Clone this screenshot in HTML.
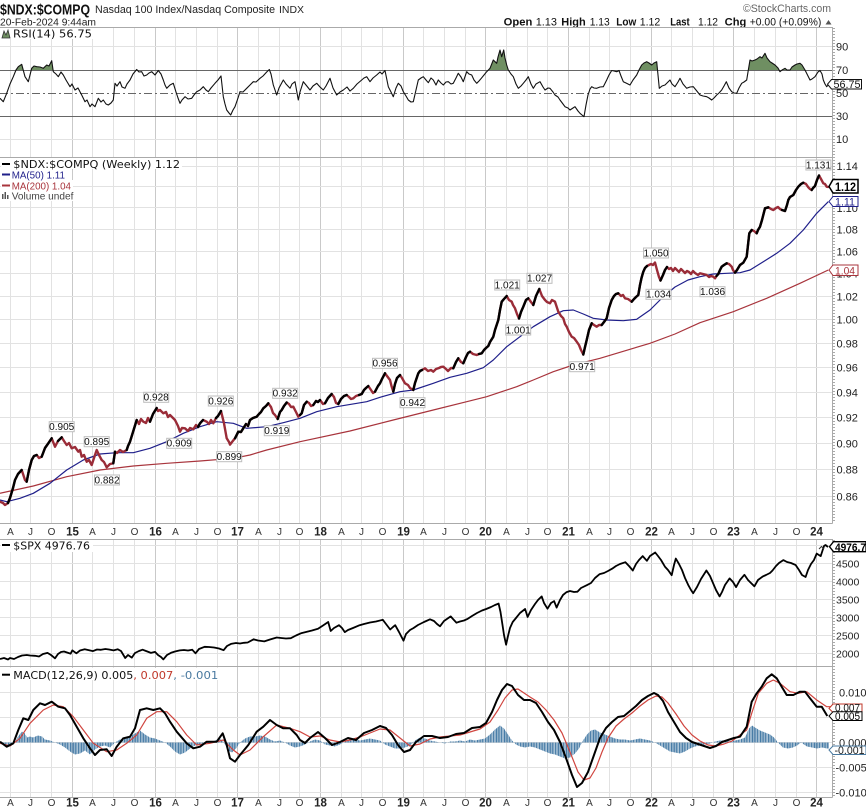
<!DOCTYPE html>
<html><head><meta charset="utf-8"><style>html,body{margin:0;padding:0;background:#fff;}svg{display:block}</style></head>
<body>
<svg width="866" height="811" viewBox="0 0 866 811" xmlns="http://www.w3.org/2000/svg" font-family="'Liberation Sans', Arial, sans-serif">
<defs>
<clipPath id="cRsi"><rect x="0" y="27" width="832.5" height="130"/></clipPath>
<clipPath id="cRsiHi"><rect x="0" y="27" width="832.5" height="43"/></clipPath>
<clipPath id="cMain"><rect x="0" y="157" width="832.5" height="366"/></clipPath>
<clipPath id="cSpx"><rect x="0" y="539" width="832.5" height="127"/></clipPath>
<clipPath id="cMacd"><rect x="0" y="666" width="832.5" height="131"/></clipPath>
<pattern id="hb" x="0" y="0" width="1.59" height="20" patternUnits="userSpaceOnUse"><rect x="0" y="0" width="1.1" height="20" fill="#3f76a2"/></pattern>
</defs>
<rect width="866" height="811" fill="#fff"/>

<!-- header -->
<text x="0" y="14.5" font-size="15" font-weight="bold" fill="#111" textLength="90" lengthAdjust="spacingAndGlyphs">$NDX:$COMPQ</text>
<text x="95" y="13" font-size="11" fill="#222" textLength="180" lengthAdjust="spacingAndGlyphs">Nasdaq 100 Index/Nasdaq Composite</text>
<text x="279" y="13" font-size="10" fill="#222" textLength="25" lengthAdjust="spacingAndGlyphs">INDX</text>
<text x="0" y="25.5" font-size="10.5" fill="#222" textLength="96" lengthAdjust="spacingAndGlyphs">20-Feb-2024 9:44am</text>
<text x="743" y="12" font-size="11" fill="#666" textLength="88" lengthAdjust="spacingAndGlyphs">©StockCharts.com</text>
<g font-size="11" fill="#111">
<text x="503.7" y="25.5" font-weight="bold" textLength="28.6" lengthAdjust="spacingAndGlyphs">Open</text>
<text x="535.7" y="25.5" textLength="21.3" lengthAdjust="spacingAndGlyphs">1.13</text>
<text x="561.3" y="25.5" font-weight="bold" textLength="24.4" lengthAdjust="spacingAndGlyphs">High</text>
<text x="589.7" y="25.5" textLength="20" lengthAdjust="spacingAndGlyphs">1.13</text>
<text x="616.3" y="25.5" font-weight="bold" textLength="20" lengthAdjust="spacingAndGlyphs">Low</text>
<text x="639.7" y="25.5" textLength="20.6" lengthAdjust="spacingAndGlyphs">1.12</text>
<text x="670.3" y="25.5" font-weight="bold" textLength="19.4" lengthAdjust="spacingAndGlyphs">Last</text>
<text x="698" y="25.5" textLength="20" lengthAdjust="spacingAndGlyphs">1.12</text>
<text x="724.7" y="25.5" font-weight="bold" textLength="21.6" lengthAdjust="spacingAndGlyphs">Chg</text>
<text x="749.7" y="25.5" textLength="71.6" lengthAdjust="spacingAndGlyphs">+0.00 (+0.09%)</text>
</g>
<polygon points="825.5,24.5 831.5,24.5 828.5,20" fill="#555"/>

<!-- vertical grid -->
<path fill="none" stroke="#e2e2e2" stroke-width="1" d="M10.5 27V523M10.5 539V797M30.5 27V523M30.5 539V797M51.5 27V523M51.5 539V797M92.5 27V523M92.5 539V797M113.5 27V523M113.5 539V797M134.5 27V523M134.5 539V797M175.5 27V523M175.5 539V797M196.5 27V523M196.5 539V797M217.5 27V523M217.5 539V797M258.5 27V523M258.5 539V797M279.5 27V523M279.5 539V797M299.5 27V523M299.5 539V797M341.5 27V523M341.5 539V797M361.5 27V523M361.5 539V797M382.5 27V523M382.5 539V797M423.5 27V523M423.5 539V797M444.5 27V523M444.5 539V797M465.5 27V523M465.5 539V797M506.5 27V523M506.5 539V797M527.5 27V523M527.5 539V797M547.5 27V523M547.5 539V797M589.5 27V523M589.5 539V797M609.5 27V523M609.5 539V797M630.5 27V523M630.5 539V797M671.5 27V523M671.5 539V797M692.5 27V523M692.5 539V797M713.5 27V523M713.5 539V797M754.5 27V523M754.5 539V797M775.5 27V523M775.5 539V797M796.5 27V523M796.5 539V797"/>
<path fill="none" stroke="#c9c9c9" stroke-width="1" d="M72.5 27V523M72.5 539V797M155.5 27V523M155.5 539V797M237.5 27V523M237.5 539V797M320.5 27V523M320.5 539V797M403.5 27V523M403.5 539V797M485.5 27V523M485.5 539V797M568.5 27V523M568.5 539V797M651.5 27V523M651.5 539V797M733.5 27V523M733.5 539V797M816.5 27V523M816.5 539V797"/>

<!-- horizontal grid -->
<path fill="none" stroke="#e2e2e2" stroke-width="1" d="M0 46.5H832M0 139.5H832
M0 166.5H832M0 186.5H832M0 207.5H832M0 229.5H832M0 251.5H832M0 273.5H832M0 296.5H832M0 319.5H832M0 343.5H832M0 367.5H832M0 392.5H832M0 417.5H832M0 443.5H832M0 469.5H832M0 496.5H832
M0 545.5H832M0 563.5H832M0 581.5H832M0 599.5H832M0 617.5H832M0 635.5H832M0 653.5H832
M0 692.5H832M0 717.5H832M0 742.5H832M0 767.5H832M0 792.5H832"/>

<!-- panel borders -->
<path fill="none" stroke="#aaa" stroke-width="1" d="M0 27.5H832.5M0 157.5H832.5M0 523.5H832.5M0 539.5H832.5M0 666.5H832.5M0 797.5H832.5M832.5 27V523.5M832.5 539V797.5"/>
<path fill="none" stroke="#aaa" stroke-width="2" stroke-dasharray="1 2" d="M834 28V523M834 540V797"/>

<!-- RSI panel -->
<g clip-path="url(#cRsi)">
<line x1="0" y1="70.5" x2="832" y2="70.5" stroke="#666" stroke-width="1"/>
<line x1="0" y1="116.5" x2="832" y2="116.5" stroke="#666" stroke-width="1"/>
<line x1="0" y1="93.5" x2="832" y2="93.5" stroke="#666" stroke-width="1" stroke-dasharray="8 3 2 3"/>
<g clip-path="url(#cRsiHi)">
<polygon fill="#6f8f62" points="0,98.3 3.3,101.7 6.7,93.3 10,84 13.3,76.7 16,70 18.3,66.7 21.7,64.3 25,76.7 28.3,81.7 31.7,68.3 34,66 36.7,66.7 40,67 43.3,68.3 46.7,65 49,66 51.7,60.7 53.3,71.7 56,74 58.3,76.7 61,72 63.3,75 66,80 70,86.7 72,84 75,90 78,88 81.7,95 85,101.7 87,100 90,106.7 92,104 95,106.7 98.3,98.3 101,102 103.3,100 106,104 108.3,105 111,103 113.3,100 115,83.3 117,86 120,81.7 122,87 125,88.3 127,84 130,80 133,74 136.7,69.5 139,72 141.7,71.7 144,76 146.7,75 149,73 151.7,71.7 155,75 158.3,70.5 161,74 163.3,80 165,85 166.7,88.3 170,85 173.3,83.3 176,92 178,98 180,103.3 182,100 185,96.7 188,99 191.7,98.3 194,95 196.7,91.7 200,90 203.3,86.7 206,90 208.3,91.7 211,88 215,83.3 218,80 221,76 223.3,96.7 225,104 226.7,110 229,113 230.7,115 233,110 235,106.7 238,98 240,91.7 243,92 246.7,88.3 250,85 253.3,81.7 256,82 260,78.3 263,76 266.7,72 269.3,69.5 271,74 273.3,85 276.7,95 279,88 283.3,80 286,84 290,88.3 292,84 295,81.7 298.3,100 300,92 303.3,81.7 306,85 310,90 313,86 316.7,83.3 320,87 323.3,90 326,86 330,78.3 333,88 336.7,95 340,92 343.3,90 347,87 350,91 353.3,88.3 357,84 361.7,80 364,78 366.7,76.7 370,81.7 373,78 376.7,75 380,72 382,74 385,70.5 388.3,86.7 391,92 393.3,96.7 396,88 398.3,83.3 401,86 403.3,91.7 406,96 408.3,100 411,102 413.3,101.7 416,90 418.3,80 421,78 423.3,76.7 426,80 428.3,82.7 431,78 433.3,80 436,85 438.3,80 441,83 443.3,85 446,82 448.3,81.7 451,84 453.3,83.3 456,78 458.3,73.3 461,77 463.3,81.7 466.7,71.7 469,74 471.7,75 474,80 476.7,83.3 479,81 481.3,78.3 484,75 486.7,71.7 490,68.3 493.3,60 496.7,63.3 498,57 500,50 501.7,56.7 503.7,50 505,58 506.7,65 508.3,70 511,74 513.3,76.7 516,84 518.3,88.3 521,86 523.3,83.3 526,80 528.3,76.7 531,84 533.3,88.3 536,84 540,81.7 543,87 545,90 548,88 550,88.3 553,92 555,95 558,97 560,100 563,104 565,106.7 568,108 570,110 573,108 575,106.7 578,111 580,113.3 582,115 584,116.7 586,105 588,95 590,89 591.7,86.7 594,88 596.7,88.3 600,87 603.3,86.7 606.7,80 609,75 611.7,70.5 614,71 616.7,71.7 619,70.5 621,76 623.3,81.7 626,83 630,85 633,80 636.7,75 639,70 641.7,65 644,63 646.7,61.7 649,63 651.7,65 654,63 656.7,61.7 658,75 659.3,88.3 662,86 665,85 668,82 670,80 672,84 675,86.7 678,82 680,78.3 683,84 686.7,88.3 690,87 693.3,86.7 696,90 700,95 703,96 706.7,96.7 709,98 711.7,100 714,98 716.7,95 719,93 721.7,90 724,86 726.3,81.7 729,88 731.7,91.7 734,93 736.7,93.3 739,88 741.7,83.3 744,82 746.7,80 748,72 750,60 752,61 755,60 757,59 760,56.7 762,58 765,53.3 767,58 770,61.7 772,63 775,65 778,68 780,71.7 782,70 785,68.3 787,70 790,70 792,67 795,65 797,64 800,63.3 802,65 805,70 807,74 810,80 812,79 815,76.7 818,72 820,70.5 822,74 823.3,80 825,84 826.7,86.7 828,85.2 828,70 0,70"/>
</g>
<polyline fill="none" stroke="#111" stroke-width="1.1" stroke-linejoin="round" points="0,98.3 3.3,101.7 6.7,93.3 10,84 13.3,76.7 16,70 18.3,66.7 21.7,64.3 25,76.7 28.3,81.7 31.7,68.3 34,66 36.7,66.7 40,67 43.3,68.3 46.7,65 49,66 51.7,60.7 53.3,71.7 56,74 58.3,76.7 61,72 63.3,75 66,80 70,86.7 72,84 75,90 78,88 81.7,95 85,101.7 87,100 90,106.7 92,104 95,106.7 98.3,98.3 101,102 103.3,100 106,104 108.3,105 111,103 113.3,100 115,83.3 117,86 120,81.7 122,87 125,88.3 127,84 130,80 133,74 136.7,69.5 139,72 141.7,71.7 144,76 146.7,75 149,73 151.7,71.7 155,75 158.3,70.5 161,74 163.3,80 165,85 166.7,88.3 170,85 173.3,83.3 176,92 178,98 180,103.3 182,100 185,96.7 188,99 191.7,98.3 194,95 196.7,91.7 200,90 203.3,86.7 206,90 208.3,91.7 211,88 215,83.3 218,80 221,76 223.3,96.7 225,104 226.7,110 229,113 230.7,115 233,110 235,106.7 238,98 240,91.7 243,92 246.7,88.3 250,85 253.3,81.7 256,82 260,78.3 263,76 266.7,72 269.3,69.5 271,74 273.3,85 276.7,95 279,88 283.3,80 286,84 290,88.3 292,84 295,81.7 298.3,100 300,92 303.3,81.7 306,85 310,90 313,86 316.7,83.3 320,87 323.3,90 326,86 330,78.3 333,88 336.7,95 340,92 343.3,90 347,87 350,91 353.3,88.3 357,84 361.7,80 364,78 366.7,76.7 370,81.7 373,78 376.7,75 380,72 382,74 385,70.5 388.3,86.7 391,92 393.3,96.7 396,88 398.3,83.3 401,86 403.3,91.7 406,96 408.3,100 411,102 413.3,101.7 416,90 418.3,80 421,78 423.3,76.7 426,80 428.3,82.7 431,78 433.3,80 436,85 438.3,80 441,83 443.3,85 446,82 448.3,81.7 451,84 453.3,83.3 456,78 458.3,73.3 461,77 463.3,81.7 466.7,71.7 469,74 471.7,75 474,80 476.7,83.3 479,81 481.3,78.3 484,75 486.7,71.7 490,68.3 493.3,60 496.7,63.3 498,57 500,50 501.7,56.7 503.7,50 505,58 506.7,65 508.3,70 511,74 513.3,76.7 516,84 518.3,88.3 521,86 523.3,83.3 526,80 528.3,76.7 531,84 533.3,88.3 536,84 540,81.7 543,87 545,90 548,88 550,88.3 553,92 555,95 558,97 560,100 563,104 565,106.7 568,108 570,110 573,108 575,106.7 578,111 580,113.3 582,115 584,116.7 586,105 588,95 590,89 591.7,86.7 594,88 596.7,88.3 600,87 603.3,86.7 606.7,80 609,75 611.7,70.5 614,71 616.7,71.7 619,70.5 621,76 623.3,81.7 626,83 630,85 633,80 636.7,75 639,70 641.7,65 644,63 646.7,61.7 649,63 651.7,65 654,63 656.7,61.7 658,75 659.3,88.3 662,86 665,85 668,82 670,80 672,84 675,86.7 678,82 680,78.3 683,84 686.7,88.3 690,87 693.3,86.7 696,90 700,95 703,96 706.7,96.7 709,98 711.7,100 714,98 716.7,95 719,93 721.7,90 724,86 726.3,81.7 729,88 731.7,91.7 734,93 736.7,93.3 739,88 741.7,83.3 744,82 746.7,80 748,72 750,60 752,61 755,60 757,59 760,56.7 762,58 765,53.3 767,58 770,61.7 772,63 775,65 778,68 780,71.7 782,70 785,68.3 787,70 790,70 792,67 795,65 797,64 800,63.3 802,65 805,70 807,74 810,80 812,79 815,76.7 818,72 820,70.5 822,74 823.3,80 825,84 826.7,86.7 828,85.2"/>
</g>
<!-- RSI legend -->
<rect x="1" y="28" width="94" height="11" fill="#fff"/>
<polygon points="2,38 4,31 6,35 8,30 10,38" fill="#6f8f62" stroke="#333" stroke-width="0.8"/>
<text x="13" y="37.5" font-family="'DejaVu Sans', sans-serif" font-size="10.5" fill="#111" textLength="79" lengthAdjust="spacingAndGlyphs">RSI(14) 56.75</text>
<!-- RSI axis labels -->
<g font-size="11" fill="#222">
<text x="836" y="50.5">90</text>
<text x="836" y="74">70</text>
<text x="836" y="97">50</text>
<text x="836" y="120">30</text>
<text x="836" y="143">10</text>
</g>
<polygon points="827.5,84.2 831.5,79.5 861.5,79.5 861.5,89 831.5,89" fill="#fff" stroke="#111" stroke-width="1"/>
<text x="833.5" y="88" font-size="11" fill="#111" textLength="27" lengthAdjust="spacingAndGlyphs">56.75</text>

<!-- MAIN panel -->
<g clip-path="url(#cMain)">
<polyline fill="none" stroke="#a8343c" stroke-width="1.2" stroke-linejoin="round" points="0,493.3 33.3,486 66.7,476.7 100,470 133.3,466 166.7,463.3 200,461 233.3,458.3 250,455 266.7,450 300,441.7 350,431 393.3,420 433.3,410 466.7,401.7 486.7,396.7 516.7,386.7 533.3,380 553.3,371.7 573.3,365 600,358.3 633.3,348.3 650,343.3 675,334 700,322.7 733.3,311.7 766.7,298.3 800,283.3 828.3,270"/>
<polyline fill="none" stroke="#1f1f8a" stroke-width="1.2" stroke-linejoin="round" points="0,500 6.7,501.7 20,498.3 33.3,493.3 50,483.3 66.7,470 83.3,460 100,454 116.7,452.7 133.3,452.7 150,448.3 166.7,441.7 183.3,433.3 200,426.7 216.7,421.7 233.3,423.3 246.7,428.3 266.7,426.7 283.3,422.7 300,418.3 316.7,411.7 336.7,406.7 366.7,401.7 380,397.3 400,391.7 413.3,390 433.3,383.3 450,377.3 466.7,373.3 483.3,367.7 493.3,360 506.7,346.7 520,336.7 533.3,326.7 550,316.7 563.3,310.7 573.3,310 583.3,314 593.3,318.3 606.7,320 623.3,320.7 636.7,319.3 650,310 663,297 675,287 688,280 700,276.7 713.3,274 726.7,273.3 740,272.7 750,270 763.3,261.7 776.7,253.3 790,243.3 803.3,230 816.7,213.3 828.3,201.7"/>
<polyline fill="none" stroke="#9a2c38" stroke-width="2.4" stroke-linejoin="round" stroke-linecap="round" points="0,501.7 3,503 5,505 8,503 10,498 13,488 15,480 18,474 21.7,470 25,480 26.7,481.7 29,470 31.7,460 34,456 36.7,455 39,458 41.7,456.7 45,448 48.3,443.3 51.7,438.3 55,446.7 58,441 61.7,437.3 64,441 66.7,445 69,443 71.7,448.3 75,447 78.3,451.7 80,450 81.7,456.7 84,455 86.7,461.7 89,460 91.7,465 94,458 96.7,450 99,455 101.7,460 104,462 106.7,467.3 110,464 113.3,463.3 115,451.7 117,453 120,450 123,452 126.7,450 128,446 130,441.7 133,432 136.7,420 139,424 141,419 143.3,421.7 146,423 148,418 150,421.7 153,414 156.7,408 158,411 160,410 163.3,413.3 166,412 168,417 170,415 173,418 175,420 178,426 180,431.7 182,428 185,428.3 188,431 190,428 193.3,429.3 196,425 198,427 200,423.3 203,420 206.7,421.7 209,424 211,420 213.3,423.3 216,418 218,416 221,411 224,423.3 226.7,438.3 229,442 230,444.6 232,442 235,438.3 238.3,431.7 241,432 243.3,428.3 246,424 248,426 250,420 253,418 256.7,416.7 259,414 261,412 263.3,408.3 266,406 268.3,403.3 271,407 273,413 275,415 277.7,419 280,412 281.7,410 284,406 286.7,402.5 289,404 291,407 293.3,406.7 296,412 298.3,416.7 300,415 301.7,413.3 304,405 306.7,401.7 309,403 311,406 313.3,405 316,401 318,402 320,400 323,404 325,403.3 328,398 331.7,394 334,397 336,403 338.3,404 341,399 344,396 346.7,395 349,397 351,399 353.3,398.3 356,396 359,395 361.7,394 364,390 366,388 368.3,386 371,390 373,393 375,391.7 378,386 380,383.3 382,379 385,373.3 387,376 390,380 391.5,386 393.3,391.7 395,384 397,378 400,375 402,378 405,383.3 408,385 410,388 413.3,390 415,383 418.3,373.3 420,371 422,370 425,368.3 428,371 431,370 433.3,371.7 436,369 439,368 441,367 443.3,366.7 446,369 448,371 451,368 453.3,368.3 456,362 458.3,358.3 461,362 463.3,363.3 466,357 468,353 470,351.7 473,354 476.7,355 479,354 481.7,353.3 484,350 486,348 488.3,346 490,342 493.3,336.7 495,330 498.3,320 500,310 501.7,301.7 504,299 506.7,296 509,300 511.7,301.7 513,305 515,308.3 517,314 519,318.5 521,312 523.3,306.7 526,300 528.3,298.3 531,302 533.3,305 536,296 539.3,289 542,296 545,300 547,302 550,303.3 552,300 555,301.7 558.3,311.7 561,316 563.3,318.3 565,324 566.7,326.7 569,332 571.7,336.7 574,338 576.7,341.7 579,345 581,350 583.3,354.5 585,347 586.7,340 589,330 591.7,323.3 594,325 596.7,326.7 599,325 601.7,325 604,322 606.7,318.3 609,308 611.7,300 614,296 616,294 618.3,293.3 621,296 623,295 625,298.3 628,299 631.7,301.7 634,299 636,297 638.3,295 640,285 641.5,278 643.3,271.7 645,268 647,266 649,265 651,264 653,265 655,262.5 657,270 659,277 660.5,280.5 663,275 665,270 667,267 669,269 671,268 673,271 675,268 677,270 679,272 681,269 683,271 685,273 687,271 689,272 691,274 693,271 695,273 698,275 700,273.3 703,274 706.7,275 709,277 711,276 713.3,276.7 715,278.3 716.5,276 718.3,274 720,270 721.7,266.7 724,265 726.7,263.3 729,264 731.7,266.7 733,270 735,272.7 737,270 740,265 743.3,262.7 746.7,256.7 748,245 749.3,233.3 751.7,230 754,231 756.7,233.3 758,230 760,226.7 762,220 765,208.3 768.3,207.3 771,209 773.3,210 776,208 778,207 780,209 782,210 785,211 787,205 788.3,200 790,197 793.3,195 796,190 798.3,186.7 801,184 803.3,182.7 806,184 808.3,187.3 810,189 811.7,190 813,188 815,186 817,180 819,175.5 821,179 823.3,183.3 825,184 826.7,186.7 828,187"/>
<g fill="none" stroke="#000" stroke-width="2.4" stroke-linejoin="round" stroke-linecap="round">
<polyline points="8,503 10,498 13,488 15,480 18,474 21.7,470"/>
<polyline points="26.7,481.7 29,470 31.7,460 34,456 36.7,455"/>
<polyline points="41.7,456.7 45,448 48.3,443.3 51.7,438.3"/>
<polyline points="58,441 61.7,437.3"/>
<polyline points="113.3,463.3 115,451.7"/>
<polyline points="126.7,450 128,446 130,441.7 133,432 136.7,420"/>
<polyline points="150,421.7 153,414 156.7,408"/>
<polyline points="198,427 200,423.3 203,420"/>
<polyline points="216,418 218,416 221,411"/>
<polyline points="235,438.3 238.3,431.7 241,432 243.3,428.3 246,424"/>
<polyline points="248,426 250,420 253,418 256.7,416.7 259,414 261,412 263.3,408.3 266,406 268.3,403.3"/>
<polyline points="277.7,419 280,412 281.7,410 284,406 286.7,402.5"/>
<polyline points="300,415 301.7,413.3 304,405 306.7,401.7"/>
<polyline points="313.3,405 316,401 318,402 320,400"/>
<polyline points="325,403.3 328,398 331.7,394"/>
<polyline points="338.3,404 341,399 344,396 346.7,395"/>
<polyline points="359,395 361.7,394 364,390 366,388 368.3,386"/>
<polyline points="375,391.7 378,386 380,383.3 382,379 385,373.3"/>
<polyline points="393.3,391.7 395,384 397,378 400,375"/>
<polyline points="413.3,390 415,383 418.3,373.3 420,371 422,370"/>
<polyline points="453.3,368.3 456,362 458.3,358.3"/>
<polyline points="463.3,363.3 466,357 468,353 470,351.7"/>
<polyline points="479,354 481.7,353.3 484,350 486,348 488.3,346 490,342 493.3,336.7 495,330 498.3,320 500,310 501.7,301.7 504,299 506.7,296"/>
<polyline points="519,318.5 521,312 523.3,306.7 526,300 528.3,298.3"/>
<polyline points="533.3,305 536,296 539.3,289"/>
<polyline points="583.3,354.5 585,347 586.7,340 589,330 591.7,323.3"/>
<polyline points="601.7,325 604,322 606.7,318.3 609,308 611.7,300 614,296 616,294 618.3,293.3"/>
<polyline points="631.7,301.7 634,299 636,297 638.3,295 640,285 641.5,278 643.3,271.7 645,268 647,266"/>
<polyline points="660.5,280.5 663,275 665,270 667,267"/>
<polyline points="716.5,276 718.3,274 720,270 721.7,266.7 724,265 726.7,263.3"/>
<polyline points="735,272.7 737,270 740,265 743.3,262.7 746.7,256.7 748,245 749.3,233.3 751.7,230"/>
<polyline points="756.7,233.3 758,230 760,226.7 762,220 765,208.3 768.3,207.3"/>
<polyline points="782,210 785,211 787,205 788.3,200 790,197 793.3,195 796,190 798.3,186.7 801,184 803.3,182.7"/>
<polyline points="811.7,190 813,188 815,186 817,180 819,175.5"/>
</g>
<!-- peak/trough labels -->
<g font-size="10" fill="#111" text-anchor="middle">
<g fill="#fff" stroke="#bdbdbd" stroke-width="1">
<rect x="49.2" y="421.7" width="25" height="10"/><rect x="84.2" y="436.7" width="25" height="10"/><rect x="94.5" y="475" width="25" height="10"/>
<rect x="143.7" y="392.3" width="25" height="10"/><rect x="166.7" y="438.3" width="25" height="10"/><rect x="208.3" y="396" width="25" height="10"/>
<rect x="216.7" y="451.7" width="25" height="10"/><rect x="272.7" y="388.3" width="25" height="10"/><rect x="264.3" y="425.7" width="25" height="10"/>
<rect x="372.5" y="358.3" width="25" height="10"/><rect x="400" y="397.7" width="25" height="10"/><rect x="494.7" y="280" width="25" height="10"/>
<rect x="505.7" y="325" width="25" height="10"/><rect x="527" y="273.3" width="25" height="10"/><rect x="569.7" y="361.7" width="25" height="10"/>
<rect x="643.5" y="248" width="25" height="10"/><rect x="646" y="289.3" width="25" height="10"/><rect x="700" y="286.7" width="25" height="10"/>
<rect x="805.9" y="160" width="25" height="10"/>
</g>
<text x="61.7" y="430">0.905</text><text x="96.7" y="445">0.895</text><text x="107" y="483.3">0.882</text>
<text x="156.2" y="400.6">0.928</text><text x="179.2" y="446.6">0.909</text><text x="220.8" y="404.3">0.926</text>
<text x="229.2" y="460">0.899</text><text x="285.2" y="396.6">0.932</text><text x="276.8" y="434">0.919</text>
<text x="385" y="366.6">0.956</text><text x="412.5" y="406">0.942</text><text x="507.2" y="288.3">1.021</text>
<text x="518.2" y="333.3">1.001</text><text x="539.5" y="281.6">1.027</text><text x="582.2" y="370">0.971</text>
<text x="656" y="256.3">1.050</text><text x="658.5" y="297.6">1.034</text><text x="712.5" y="295">1.036</text>
<text x="818.4" y="168.3">1.131</text>
</g>
</g>
<!-- main legend -->
<rect x="1" y="158" width="181" height="11" fill="#fff"/>
<rect x="1" y="169" width="67" height="11" fill="#fff"/>
<rect x="1" y="180" width="72" height="11" fill="#fff"/>
<rect x="1" y="191" width="74" height="10" fill="#fff"/>
<line x1="2" y1="164" x2="10" y2="164" stroke="#000" stroke-width="2"/>
<text x="13.3" y="168" font-family="'DejaVu Sans', sans-serif" font-size="10.5" fill="#111" textLength="166.7" lengthAdjust="spacingAndGlyphs">$NDX:$COMPQ (Weekly) 1.12</text>
<line x1="2" y1="174.5" x2="10" y2="174.5" stroke="#1f1f8a" stroke-width="2"/>
<text x="11.7" y="178.5" font-size="10.5" fill="#1f1f8a" textLength="53.3" lengthAdjust="spacingAndGlyphs">MA(50) 1.11</text>
<line x1="2" y1="185.5" x2="10" y2="185.5" stroke="#a8343c" stroke-width="2"/>
<text x="11.7" y="189.5" font-size="10.5" fill="#a8343c" textLength="59.3" lengthAdjust="spacingAndGlyphs">MA(200) 1.04</text>
<path d="M2 199V194H3.5V199M4.5 199V192H6V199M7 199V195H8.5V199" fill="#555"/>
<text x="11.7" y="199.5" font-size="10.5" fill="#444" textLength="61.7" lengthAdjust="spacingAndGlyphs">Volume undef</text>
<!-- main axis labels -->
<g font-size="11" fill="#222">
<text x="836.5" y="170">1.14</text>
<text x="836.5" y="190.8">1.12</text>
<text x="836.5" y="212">1.10</text>
<text x="836.5" y="233.4">1.08</text>
<text x="836.5" y="255.4">1.06</text>
<text x="836.5" y="277.7">1.04</text>
<text x="836.5" y="300.5">1.02</text>
<text x="836.5" y="323.7">1.00</text>
<text x="836.5" y="347.4">0.98</text>
<text x="836.5" y="371.6">0.96</text>
<text x="836.5" y="396.3">0.94</text>
<text x="836.5" y="421.5">0.92</text>
<text x="836.5" y="447.3">0.90</text>
<text x="836.5" y="473.6">0.88</text>
<text x="836.5" y="500.6">0.86</text>
</g>
<polygon points="829,186.5 833,179.5 858,179.5 858,193 833,193" fill="#fff" stroke="#000" stroke-width="1.5"/>
<text x="835" y="190.8" font-size="11.5" font-weight="bold" fill="#000" textLength="21" lengthAdjust="spacingAndGlyphs">1.12</text>
<polygon points="829,201.5 833,196.5 858,196.5 858,206.5 833,206.5" fill="#fff" stroke="#1f1f8a" stroke-width="1"/>
<text x="835" y="205.5" font-size="11" fill="#1f1f8a" textLength="20" lengthAdjust="spacingAndGlyphs">1.11</text>
<polygon points="829,270 833,265 858,265 858,275.5 833,275.5" fill="#fff" stroke="#a8343c" stroke-width="1"/>
<text x="835" y="274.5" font-size="11" fill="#a8343c" textLength="20" lengthAdjust="spacingAndGlyphs">1.04</text>

<!-- x labels row 1 -->
<g font-size="10" fill="#333" text-anchor="middle">
<text x="10.5" y="535">A</text><text x="30.5" y="535">J</text><text x="51.5" y="535">O</text>
<text x="92.5" y="535">A</text><text x="113.5" y="535">J</text><text x="134.5" y="535">O</text>
<text x="175.5" y="535">A</text><text x="196.5" y="535">J</text><text x="217.5" y="535">O</text>
<text x="258.5" y="535">A</text><text x="279.5" y="535">J</text><text x="299.5" y="535">O</text>
<text x="341.5" y="535">A</text><text x="361.5" y="535">J</text><text x="382.5" y="535">O</text>
<text x="423.5" y="535">A</text><text x="444.5" y="535">J</text><text x="465.5" y="535">O</text>
<text x="506.5" y="535">A</text><text x="527.5" y="535">J</text><text x="547.5" y="535">O</text>
<text x="589.5" y="535">A</text><text x="609.5" y="535">J</text><text x="630.5" y="535">O</text>
<text x="671.5" y="535">A</text><text x="692.5" y="535">J</text><text x="713.5" y="535">O</text>
<text x="754.5" y="535">A</text><text x="775.5" y="535">J</text><text x="796.5" y="535">O</text>
<text x="10.5" y="806">A</text><text x="30.5" y="806">J</text><text x="51.5" y="806">O</text>
<text x="92.5" y="806">A</text><text x="113.5" y="806">J</text><text x="134.5" y="806">O</text>
<text x="175.5" y="806">A</text><text x="196.5" y="806">J</text><text x="217.5" y="806">O</text>
<text x="258.5" y="806">A</text><text x="279.5" y="806">J</text><text x="299.5" y="806">O</text>
<text x="341.5" y="806">A</text><text x="361.5" y="806">J</text><text x="382.5" y="806">O</text>
<text x="423.5" y="806">A</text><text x="444.5" y="806">J</text><text x="465.5" y="806">O</text>
<text x="506.5" y="806">A</text><text x="527.5" y="806">J</text><text x="547.5" y="806">O</text>
<text x="589.5" y="806">A</text><text x="609.5" y="806">J</text><text x="630.5" y="806">O</text>
<text x="671.5" y="806">A</text><text x="692.5" y="806">J</text><text x="713.5" y="806">O</text>
<text x="754.5" y="806">A</text><text x="775.5" y="806">J</text><text x="796.5" y="806">O</text>
</g>
<g font-size="11.5" font-weight="bold" fill="#222" text-anchor="middle">
<text x="72.5" y="535.5">15</text><text x="155.5" y="535.5">16</text><text x="237.5" y="535.5">17</text><text x="320.5" y="535.5">18</text><text x="403.5" y="535.5">19</text>
<text x="485.5" y="535.5">20</text><text x="568.5" y="535.5">21</text><text x="651.5" y="535.5">22</text><text x="733.5" y="535.5">23</text><text x="816.5" y="535.5">24</text>
<text x="72.5" y="806.5">15</text><text x="155.5" y="806.5">16</text><text x="237.5" y="806.5">17</text><text x="320.5" y="806.5">18</text><text x="403.5" y="806.5">19</text>
<text x="485.5" y="806.5">20</text><text x="568.5" y="806.5">21</text><text x="651.5" y="806.5">22</text><text x="733.5" y="806.5">23</text><text x="816.5" y="806.5">24</text>
</g>

<!-- SPX panel -->
<g clip-path="url(#cSpx)">
<polyline fill="none" stroke="#000" stroke-width="1.8" stroke-linejoin="round" points="0,659 4,658 8,659.5 10,658 14,659 18,657 22,655.5 26.8,655 30,655.5 35,655.8 39,656.5 43,654 47.5,652.9 51,655 55,658.3 58,654 61,652 64,651.5 67,652.5 70.6,653.7 72.3,650.4 76.4,653.3 80,650.5 84.7,649.3 88,650 93,651.1 97,649.5 101,649.8 105.4,649 109,649.5 113.6,650.4 117.8,649.3 121,651 125.2,658 128,655 131.8,657.6 135,653 139,651 142.6,649.7 146,651 150.9,652.9 155,651.9 158,655 161,657 163.3,659.4 167,655 171.5,652.6 175,651.5 179.8,650.4 184,650 188,650.5 192.2,649.7 195.5,653.3 199,649 204.6,646.8 209,647 214,647.5 219,648.5 223.6,650.2 227,646 231,643.9 236,643 240,643.5 244,642.8 247.7,642.5 253.6,639.3 258,640.5 264.3,641.4 270,639.5 276.7,637.5 281,638 286,638.5 290.8,638.2 296,635.5 301.5,633.1 306,632 312,630.5 318,628.8 323,625.5 328.2,622 330.7,631 334,628 339,625.2 342,628 344.8,632.1 348,630 353,628 359.6,625.2 364,624 370,622.5 376,621.5 382.8,619.8 386,624 390.2,629.5 393,627 395.2,625.2 399,632 403.5,640.7 406,634 410,630 413.4,628.1 418,625 424,622 430,619.3 434,621 437,624 440,626.3 444,621 450.7,616.4 453,619 456.5,622.7 460,621.5 464,620.5 467.2,619.1 472,616 477,613 482,610.5 486.2,609 491,607 495,605 498.6,603.6 500.5,612 502.5,625 504,635 506.1,644.7 508,636 510,628 512.7,622 516,618 520,613 525.1,609 527.6,617 531,610 535,604 538,600 541.7,596.4 544,603 547.5,608.7 551,603 554.1,601.1 556.6,607.6 560,600 563,595 566.6,592.1 570,591 574,592 577.4,591.7 581,588 587.3,584.9 591,583 595,578 599.7,574.1 604,573 608,571 612.1,568.7 616,566 620,564 625.4,562.2 629,566 632.8,570.5 636,564 639,560 642.7,556.1 646.9,560.8 650,556 655.2,552.5 658,556 661,560 665.1,566.9 668,570 671.7,575.2 674,565 675.8,558.6 679,564 682,570 685,578 688.2,584.9 691,590 693.2,593.2 697,587 701,579 706.4,570.5 710,576 713,583 716,590 719.6,596.4 722,592 725,585 729.6,578.4 733,582 736.1,587.1 740,580 744.4,574.8 748,580 751,583 754.4,586.3 758,580 762.6,576.6 766,575 770,573 772.5,570.5 776,566 779,563 783.3,560.1 787,562 791,563 795.7,565.1 799,570 802,575 805.6,577 808,570 811,564 813.9,560.1 816.7,553.6 820.7,556.1 824,546 825.5,545 828,547"/>
</g>
<rect x="1" y="540" width="92" height="12" fill="#fff"/>
<line x1="2" y1="545" x2="10" y2="545" stroke="#000" stroke-width="2"/>
<text x="13.3" y="549.5" font-family="'DejaVu Sans', sans-serif" font-size="10.5" fill="#111" textLength="76.7" lengthAdjust="spacingAndGlyphs">$SPX 4976.76</text>
<g font-size="10.5" fill="#222">
<text x="836" y="567.3">4500</text>
<text x="836" y="585.3">4000</text>
<text x="836" y="603.3">3500</text>
<text x="836" y="621.3">3000</text>
<text x="836" y="639.3">2500</text>
<text x="836" y="657.3">2000</text>
</g>
<polyline points="819,549 821.5,546.5 824,549" fill="none" stroke="#333" stroke-width="1"/>
<polygon points="829.5,546.7 833.5,541.7 866,541.7 866,551.7 833.5,551.7" fill="#fff" stroke="#000" stroke-width="1.3"/>
<text x="835" y="550.8" font-size="11" font-weight="bold" fill="#000" textLength="31" lengthAdjust="spacingAndGlyphs">4976.7</text>

<!-- MACD panel -->
<g clip-path="url(#cMacd)">
<polygon fill="url(#hb)" points="0,742.5 5,745.5 10,744.5 15,742.5 18,736.5 22,731.5 25,733.5 27,737.5 30,736.5 33,737.5 38,735.5 42,736.5 45,739.5 50,740.5 55,742.5 60,744.5 65,747.5 70,751.5 75,754.5 80,753.5 85,750.5 90,754.5 95,749.5 100,746.5 105,745.5 110,747.5 115,742.5 120,739.5 125,738.5 130,736.5 135,733.5 140,730.5 145,734.5 150,737.5 155,738.5 160,740.5 165,742.5 170,746.5 175,751.5 180,754.5 185,752.5 190,748.5 195,745.5 200,744.5 205,742.5 210,743.5 215,740.5 220,738.5 224,742.5 228,750.5 232,752.5 236,748.5 240,742.5 245,738.5 250,736.5 255,736.5 260,735.5 265,736.5 270,739.5 275,741.5 280,740.5 285,742.5 290,745.5 295,747.5 300,746.5 305,744.5 310,741.5 315,739.5 320,740.5 325,744.5 330,745.5 335,746.5 340,744.5 345,741.5 350,740.5 355,739.5 360,740.5 365,739.5 370,738.5 375,739.5 380,740.5 385,744.5 390,746.5 395,748.5 400,748.5 405,747.5 410,745.5 415,740.5 420,737.5 425,738.5 430,740.5 435,741.5 440,742.5 445,743.5 450,741.5 455,741.5 460,740.5 465,741.5 470,739.5 475,740.5 480,739.5 485,738.5 490,734.5 495,729.5 500,725.5 504,728.5 508,734.5 512,740.5 516,744.5 520,746.5 525,747.5 530,746.5 535,747.5 540,749.5 545,751.5 550,753.5 555,754.5 560,756.5 565,758.5 570,757.5 575,753.5 579,748.5 583,740.5 587,734.5 591,730.5 595,729.5 600,732.5 605,734.5 610,736.5 615,738.5 620,739.5 625,739.5 630,740.5 635,739.5 640,738.5 645,739.5 650,740.5 655,742.5 660,745.5 665,748.5 670,751.5 675,752.5 680,753.5 685,751.5 690,748.5 695,746.5 700,745.5 705,744.5 710,743.5 715,741.5 720,740.5 725,740.5 730,741.5 735,740.5 740,739.5 745,737.5 749,728.5 752,725.5 755,727.5 760,730.5 765,732.5 770,734.5 774,737.5 778,742.5 783,747.5 788,748.5 793,747.5 797,745.5 801,742.5 804,744.5 807,746.5 812,747.5 817,748.5 822,747.5 827,748.5 829,748.5 829,742.5"/>
<polyline fill="none" stroke="#d0453f" stroke-width="1.2" stroke-linejoin="round" points="0,743.3 10,746 20,738.3 30,723.3 43.3,710 53.3,705 63.3,706.7 73.3,716.7 83.3,730 93.3,743.3 106.7,751.7 116.7,750 126.7,743.3 136.7,735 146.7,718.3 156.7,711.7 166.7,711.7 176.7,721.7 186.7,735 196.7,745 210,743.3 223.3,740 233.3,750 240,755 250,750 263.3,736.7 276.7,725 290,728.3 300,731.7 310,737 320,736 330,740 340,742 350,740 360,737 370,733 380,729 390,730 400,738 410,746 420,744 430,739 440,737 450,736 460,735 470,732 480,729 490,722 498,710 505,698 512,690 518,689 524,693 530,697 538,702 546,710 554,720 562,733 570,752 578,772 584,780 590,778 596,768 602,752 608,738 616,726 624,719 632,713 640,706 648,700 656,696 662,697 668,703 676,714 684,726 692,735 700,741 708,745 716,746 724,744 732,741 740,735 746.7,730 751.7,713.3 758.3,693.3 766.7,683.3 773.3,680 780,683.3 790,691.7 798.3,693.3 806.7,691.7 816.7,700 826.7,706.7 830.7,706.7"/>
<polyline fill="none" stroke="#000" stroke-width="2" stroke-linejoin="round" points="0,741.7 6.7,746.7 13.3,743.3 18.3,730 23.3,718.3 28.3,720 33.3,710 40,703.3 45,705 51.7,701.7 58.3,706.7 65,708.3 70,715 76.7,726.7 83.3,738.3 90,748.3 95,755 100,750 106.7,749.3 111.7,756 116.7,746.7 123.3,738.3 130,736.7 135,728.3 140,710 146.7,708.3 153.3,710 160,708.3 165,713.3 170,721.7 176.7,731.7 186.7,743.3 193.3,748.3 200,746.7 206.7,741.7 216.7,741.7 222.7,733.3 226.7,745 230,758.3 235,761.7 240,755 248.3,745 256.7,731.7 263.3,726.7 270,720 276.7,725 283.3,728.3 290,728.3 296.7,735 300,740 305,743 310,738 318,732 325,738 332,745 340,742 348,738 356,740 364,733 372,730 380,726 386,728 392,735 398,745 404,752 410,750 416,742 424,736 432,736 440,738 448,737 456,734 464,733 472,728 480,727 486,723 492,712 497,700 502,690 507,684 512,686 518,695 524,700 530,700 536,703 542,712 548,722 554,730 560,742 566,758 572,775 577,787 582,783 588,772 594,755 600,738 606,728 612,722 618,717 624,716 630,711 636,706 642,700 648,696 654,693 658,695 663,701 668,712 674,722 680,732 686,738 692,742 698,744 704,746 710,748 716,746 722,742 728,740 734,738 740,736.7 746.7,726.7 751.7,701.7 756.7,693.3 761.7,686.7 766.7,678.3 771.7,674.3 776.7,678.3 781.7,686.7 786.7,695 793.3,695 800,691.7 805,691.7 810,698.3 816.7,706.7 821.7,706.7 827.3,716"/>
</g>
<rect x="1" y="668" width="220" height="12" fill="#fff"/>
<line x1="2" y1="674.7" x2="10" y2="674.7" stroke="#000" stroke-width="2"/>
<g font-family="'DejaVu Sans', sans-serif" font-size="10.5">
<text x="13.3" y="679" fill="#111" textLength="120" lengthAdjust="spacingAndGlyphs">MACD(12,26,9) 0.005</text>
<text x="133.3" y="679" fill="#c0392b" textLength="40" lengthAdjust="spacingAndGlyphs">, 0.007</text>
<text x="173.3" y="679" fill="#4a7aa0" textLength="45" lengthAdjust="spacingAndGlyphs">, -0.001</text>
</g>
<g font-size="11" fill="#222">
<text x="839" y="696.3">0.010</text>
<text x="839" y="746.5">0.000</text>
<text x="835.5" y="771.6">-0.005</text>
<text x="835.5" y="796.7">-0.010</text>
</g>
<polygon points="829,708.5 833,704 862,704 862,712.5 833,712.5" fill="#fff" stroke="#c0392b" stroke-width="1"/>
<text x="835" y="711.7" font-size="11" fill="#111" textLength="25" lengthAdjust="spacingAndGlyphs">0.007</text>
<polygon points="829,716 833,711.7 862,711.7 862,720.5 833,720.5" fill="#fff" stroke="#000" stroke-width="1"/>
<text x="835" y="719.8" font-size="11" fill="#000" textLength="25" lengthAdjust="spacingAndGlyphs">0.005</text>
<polygon points="829,750 833,746 866,746 866,754.5 833,754.5" fill="#fff" stroke="#4a7aa0" stroke-width="1"/>
<text x="834.5" y="753.8" font-size="11" fill="#222" textLength="30" lengthAdjust="spacingAndGlyphs">-0.001</text>
</svg>
</body></html>
